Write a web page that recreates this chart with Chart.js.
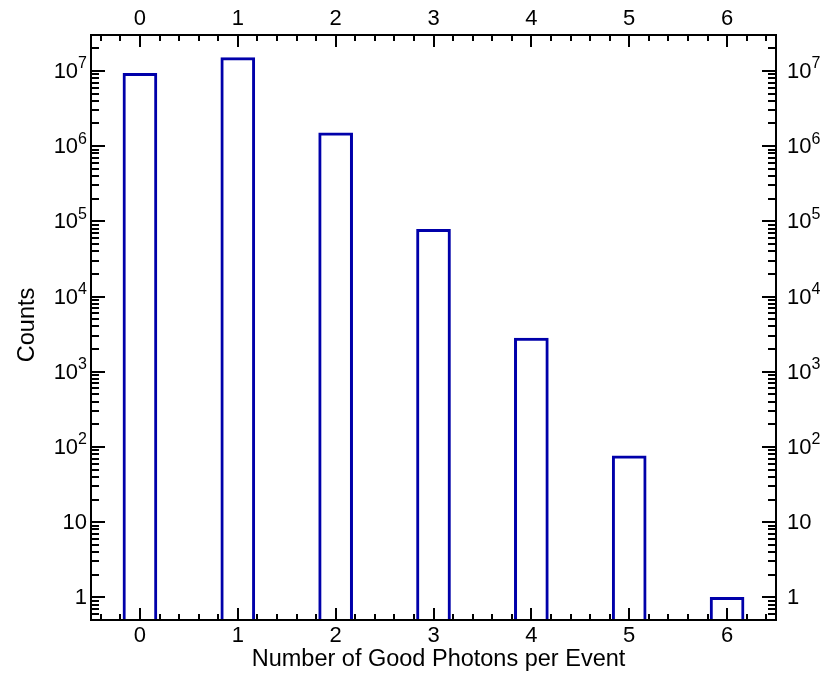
<!DOCTYPE html>
<html>
<head>
<meta charset="utf-8">
<script src="https://cdn.jsdelivr.net/npm/chart.js@4"></script>
<style>
  html, body { margin: 0; padding: 0; background: #fff; }
  #wrap { width: 830px; height: 674px; }
</style>
</head>
<body>
<div id="wrap"><canvas id="photonChart" width="830" height="674"></canvas></div>
<script>
const photons = [0, 1, 2, 3, 4, 5, 6];
const counts = [9.3e6, 1.5e7, 1.5e6, 7.8e4, 2.8e3, 76, 1];
const xTicks = [0, 1, 2, 3, 4, 5, 6];
const yDecades = [0, 1, 2, 3, 4, 5, 6, 7];

const FONT = '"Liberation Sans", Arial, Helvetica, sans-serif';

// frame, inward ticks and labels on all four sides
const framePlugin = {
  id: 'frame',
  afterDraw(chart) {
    const { ctx, chartArea: a, scales } = chart;
    const x = scales.x, y = scales.y;
    ctx.save();
    ctx.strokeStyle = '#000';
    ctx.fillStyle = '#000';
    ctx.lineWidth = 2;
    ctx.strokeRect(a.left, a.top, a.right - a.left, a.bottom - a.top);

    // x ticks, every 0.2, major at integers
    ctx.beginPath();
    for (let k = -2; k <= 32; k++) {
      const v = k / 5;
      if (v < x.min || v > x.max) continue;
      const px = Math.round(x.getPixelForValue(v));
      const len = k % 5 === 0 ? 12 : 6;
      ctx.moveTo(px, a.bottom); ctx.lineTo(px, a.bottom - len);
      ctx.moveTo(px, a.top); ctx.lineTo(px, a.top + len);
    }
    // y ticks, decades + minors
    for (let d = -1; d <= 7; d++) {
      for (let m = 1; m <= 9; m++) {
        const v = m * Math.pow(10, d);
        if (v < y.min || v > y.max) continue;
        const py = Math.round(y.getPixelForValue(v));
        const len = m === 1 ? 14 : 8;
        ctx.moveTo(a.left, py); ctx.lineTo(a.left + len, py);
        ctx.moveTo(a.right, py); ctx.lineTo(a.right - len, py);
      }
    }
    ctx.stroke();

    // x tick labels, bottom and top
    ctx.font = '22px ' + FONT;
    ctx.textAlign = 'center';
    ctx.textBaseline = 'middle';
    xTicks.forEach(t => {
      const px = x.getPixelForValue(t);
      ctx.fillText(String(t), px, 636);
      ctx.fillText(String(t), px, 19);
    });

    // y tick labels with superscripts
    yDecades.forEach(d => {
      const py = y.getPixelForValue(Math.pow(10, d));
      const base = d === 0 ? '1' : '10';
      const sup = d >= 2 ? String(d) : '';
      ctx.font = '22px ' + FONT;
      const bw = ctx.measureText(base).width;
      ctx.font = '16px ' + FONT;
      const sw = sup ? ctx.measureText(sup).width : 0;
      ctx.textAlign = 'left';
      ctx.textBaseline = 'middle';
      const lx = a.left - 4 - bw - sw;
      ctx.font = '22px ' + FONT;
      ctx.fillText(base, lx, py + 1);
      ctx.fillText(base, a.right + 11, py + 1);
      if (sup) {
        ctx.font = '16px ' + FONT;
        ctx.fillText(sup, lx + bw, py - 7);
        ctx.fillText(sup, a.right + 11 + bw, py - 7);
      }
    });

    // axis titles
    ctx.font = '23.5px ' + FONT;
    ctx.textAlign = 'center';
    ctx.textBaseline = 'middle';
    ctx.fillText('Number of Good Photons per Event', (a.left + a.right) / 2 + 5, 660);
    ctx.translate(28, 325);
    ctx.rotate(-Math.PI / 2);
    ctx.fillText('Counts', 0, 0);
    ctx.restore();
  }
};

new Chart(document.getElementById('photonChart'), {
  type: 'bar',
  data: {
    datasets: [{
      data: photons.map((p, i) => ({ x: p, y: counts[i] })),
      backgroundColor: '#ffffff',
      borderColor: '#0000aa',
      borderWidth: 3,
      barThickness: 34
    }]
  },
  options: {
    responsive: false,
    animation: false,
    layout: { padding: { left: 91, right: 54, top: 35, bottom: 54 } },
    plugins: { legend: { display: false }, tooltip: { enabled: false } },
    scales: {
      x: { type: 'linear', min: -0.5, max: 6.5, offset: false, display: false },
      y: { type: 'logarithmic', min: 0.5, max: 3e7, display: false }
    }
  },
  plugins: [framePlugin]
});
</script>
</body>
</html>
